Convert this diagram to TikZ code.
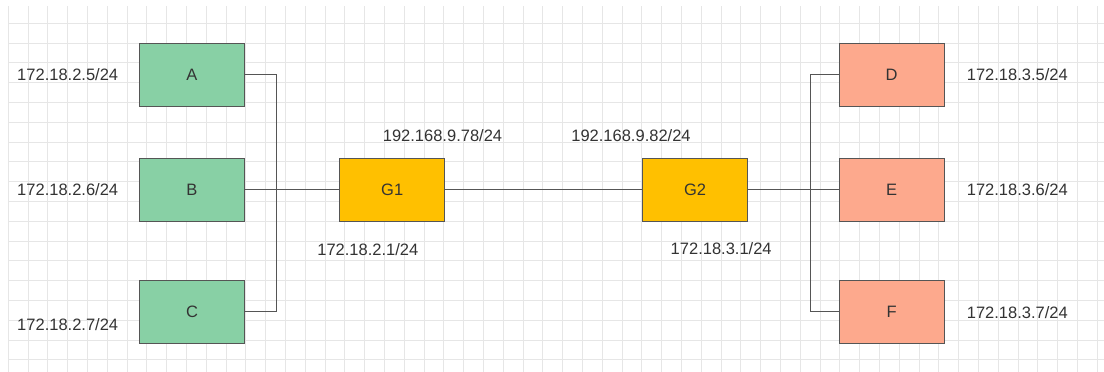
\documentclass[tikz,border=0pt]{standalone}
\usepackage{fontspec}
\setmainfont{Liberation Sans}
\definecolor{gridc}{HTML}{E6E6E6}
\definecolor{linec}{HTML}{555555}
\definecolor{txtc}{HTML}{333333}
\definecolor{greenf}{HTML}{88D0A5}
\definecolor{orangef}{HTML}{FFC000}
\definecolor{salmonf}{HTML}{FDA98D}
\tikzset{
  box/.style={rectangle, draw=linec, line width=1pt, minimum width=105pt, minimum height=63pt, inner sep=0pt, text=txtc, font=\fontsize{16.5}{20}\selectfont},
  hostbox/.style={box, fill=greenf},
  gwbox/.style={box, fill=orangef},
  rhostbox/.style={box, fill=salmonf},
  iplabel/.style={anchor=base, inner sep=0pt, text=txtc, font=\fontsize{16.5}{20}\selectfont},
  wire/.style={draw=linec, line width=1pt},
}
\begin{document}
\begin{tikzpicture}[x=1pt, y=-1pt]
\useasboundingbox (0,0) rectangle (1104,372);
\fill[white] (0,0) rectangle (1104,372);
% grid
\foreach \i in {0,...,55} {
  \draw[gridc, line width=1pt] ({8.3+19.8*\i},6) -- ({8.3+19.8*\i},372);
}
\foreach \j in {0,...,17} {
  \draw[gridc, line width=1pt] (8,{23.3+19.8*\j}) -- (1104,{23.3+19.8*\j});
}
% nodes
\node[hostbox] (A) at (192,74.6) {A};
\node[hostbox] (B) at (192,189.5) {B};
\node[hostbox] (C) at (192,311.5) {C};
\node[gwbox] (G1) at (392.2,189.5) {G1};
\node[gwbox] (G2) at (695,189.5) {G2};
\node[rhostbox] (D) at (891.7,74.6) {D};
\node[rhostbox] (E) at (891.7,189.5) {E};
\node[rhostbox] (F) at (891.7,311.5) {F};
\coordinate (jl) at (276,189.5);
\coordinate (jr) at (810,189.5);
% connectors
\draw[wire] (A.east) -| (jl);
\draw[wire] (C.east) -| (jl);
\draw[wire] (B.east) -- (G1.west);
\draw[wire] (G1.east) -- (G2.west);
\draw[wire] (G2.east) -- (E.west);
\draw[wire] (D.west) -| (jr);
\draw[wire] (F.west) -| (jr);
% labels
\node[iplabel] (lA) at (67.7,80) {172.18.2.5/24};
\node[iplabel] (lB) at (67.7,195) {172.18.2.6/24};
\node[iplabel] (lC) at (67.7,330.8) {172.18.2.7/24};
\node[iplabel] (lD) at (1017.3,80) {172.18.3.5/24};
\node[iplabel] (lE) at (1017.3,195) {172.18.3.6/24};
\node[iplabel] (lF) at (1017.3,318) {172.18.3.7/24};
\node[iplabel] (lG1w) at (442.5,141.8) {192.168.9.78/24};
\node[iplabel] (lG2w) at (631,141.8) {192.168.9.82/24};
\node[iplabel] (lG1l) at (367.8,255) {172.18.2.1/24};
\node[iplabel] (lG2l) at (721.2,254.5) {172.18.3.1/24};
\end{tikzpicture}
\end{document}
